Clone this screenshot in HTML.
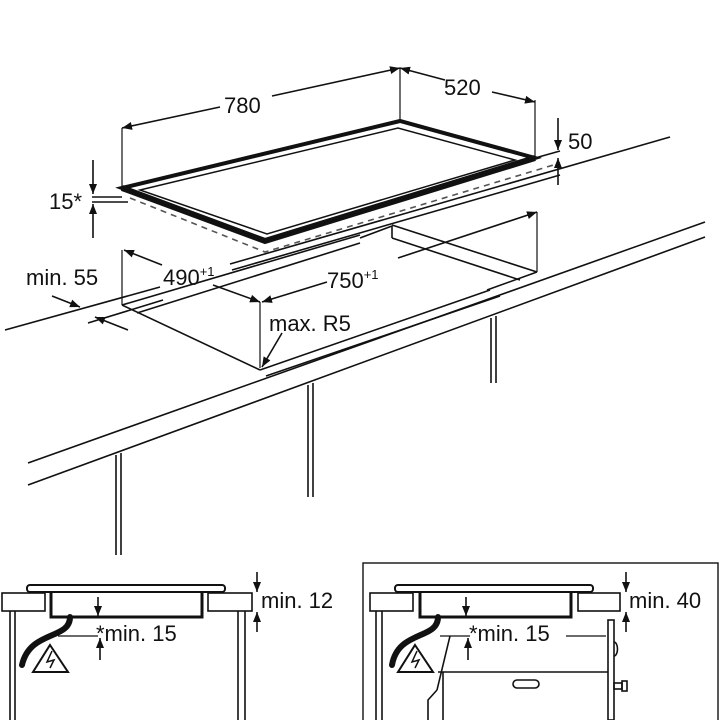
<!DOCTYPE html>
<html><head><meta charset="utf-8"><style>
html,body{margin:0;padding:0;background:#fff;width:720px;height:720px;overflow:hidden}
text{font-family:"Liberation Sans",Arial,sans-serif;fill:#111}
</style></head><body>
<svg width="720" height="720" viewBox="0 0 720 720" xmlns="http://www.w3.org/2000/svg">
<defs>
<marker id="a" viewBox="0 0 10 10" refX="10" refY="5" markerWidth="10" markerHeight="10" orient="auto-start-reverse" markerUnits="userSpaceOnUse"><path d="M0,1 L10,5 L0,9 z" fill="#111"/></marker>
</defs>
<g stroke="#111" stroke-width="1.6" fill="none">
<line x1="5" y1="330" x2="160" y2="287"/>
<line x1="88" y1="323" x2="163" y2="300"/>
<line x1="230" y1="264" x2="670" y2="137"/>
<line x1="232" y1="270" x2="560" y2="175"/>
<line x1="28" y1="463" x2="705" y2="222"/>
<line x1="28" y1="485" x2="705" y2="237"/>
<line x1="116" y1="455" x2="116" y2="555"/><line x1="121" y1="453" x2="121" y2="555"/>
<line x1="308" y1="385" x2="308" y2="497"/><line x1="313" y1="383" x2="313" y2="497"/>
<line x1="491" y1="318" x2="491" y2="383"/><line x1="496" y1="316" x2="496" y2="383"/>
<line x1="122" y1="305" x2="260" y2="370"/>
<line x1="137" y1="313" x2="360" y2="243"/>
<line x1="122" y1="305" x2="360" y2="235"/>
<line x1="360" y1="238" x2="392" y2="226"/>
<line x1="392" y1="225" x2="537" y2="272"/>
<line x1="392" y1="226" x2="392" y2="238"/>
<line x1="392" y1="238" x2="520" y2="280"/>
<line x1="537" y1="272" x2="487" y2="290"/>
<line x1="260" y1="370" x2="490" y2="290"/>
<line x1="266" y1="376" x2="500" y2="296"/>
<path d="M122,188 L400,121 L535,158 L265,241 Z" stroke-width="4"/>
<path d="M140,190 L398,128 L515,160 L267,234 Z" stroke-width="1.5"/>
<path d="M122,188 L265,241 L535,158" stroke-width="6"/>
<path d="M130,198 L265,252 L560,163" stroke-dasharray="6,5" stroke="#555"/>
<line x1="535" y1="158" x2="560" y2="151"/>
<line x1="92" y1="197" x2="122" y2="197"/><line x1="92" y1="202" x2="128" y2="202"/>
<line x1="122" y1="128" x2="122" y2="186" stroke-width="1.2"/>
<line x1="400" y1="68" x2="400" y2="120" stroke-width="1.2"/>
<line x1="535" y1="100" x2="535" y2="156" stroke-width="1.2"/>
<line x1="220" y1="107" x2="122" y2="128" marker-end="url(#a)"/>
<line x1="272" y1="96" x2="400" y2="68" marker-end="url(#a)"/>
<line x1="445" y1="80" x2="400" y2="68" marker-end="url(#a)"/>
<line x1="492" y1="92" x2="535" y2="102" marker-end="url(#a)"/>
<line x1="558" y1="118" x2="558" y2="150" marker-end="url(#a)"/>
<line x1="558" y1="185" x2="558" y2="158" marker-end="url(#a)"/>
<line x1="93" y1="160" x2="93" y2="194" marker-end="url(#a)"/>
<line x1="93" y1="238" x2="93" y2="204" marker-end="url(#a)"/>
<line x1="122" y1="250" x2="122" y2="305" stroke-width="1.2"/>
<line x1="162" y1="265" x2="124" y2="250" marker-end="url(#a)"/>
<line x1="213" y1="285" x2="260" y2="302" marker-end="url(#a)"/>
<line x1="327" y1="282" x2="262" y2="302" marker-end="url(#a)"/>
<line x1="398" y1="258" x2="537" y2="212" marker-end="url(#a)"/>
<line x1="537" y1="212" x2="537" y2="272" stroke-width="1.2"/>
<line x1="260" y1="302" x2="260" y2="368" stroke-width="1.2"/>
<line x1="282" y1="333" x2="262" y2="367" marker-end="url(#a)"/>
<line x1="52" y1="296" x2="80" y2="307" marker-end="url(#a)"/>
<line x1="128" y1="330" x2="95" y2="317" marker-end="url(#a)"/>
</g>
<g font-size="22">
<text x="224" y="113">780</text>
<text x="444" y="95">520</text>
<text x="568" y="149">50</text>
<text x="49" y="209">15*</text>
<text x="26" y="285">min. 55</text>
<text x="163" y="285">490<tspan font-size="13" dy="-9">+1</tspan></text>
<text x="327" y="288">750<tspan font-size="13" dy="-9">+1</tspan></text>
<text x="269" y="331">max. R5</text>
</g>
<g stroke="#111" stroke-width="1.6" fill="none">
<rect x="27" y="585" width="198" height="7" rx="3" stroke-width="2"/>
<rect x="2" y="593" width="43" height="18"/>
<rect x="208" y="593" width="44" height="18"/>
<path d="M51,593 V617 H202 V593" stroke-width="3"/>
<line x1="10" y1="611" x2="10" y2="720"/><line x1="15" y1="611" x2="15" y2="720"/>
<line x1="238" y1="611" x2="238" y2="720"/><line x1="245" y1="611" x2="245" y2="720"/>
<path d="M70,617 C70,640 30,630 22,665" stroke-width="6" stroke-linecap="round"/>
<path d="M50,645 L68,672 L33,672 Z" stroke-width="2"/>
<path d="M52,651 L47,662 L54,660 L50,668" stroke-width="1.5"/>
<line x1="58" y1="636" x2="98" y2="636" stroke-width="1.2"/>
<line x1="98" y1="597" x2="98" y2="616" marker-end="url(#a)"/>
<line x1="100" y1="660" x2="100" y2="638" marker-end="url(#a)"/>
<line x1="257" y1="572" x2="257" y2="592" marker-end="url(#a)"/>
<line x1="257" y1="632" x2="257" y2="612" marker-end="url(#a)"/>
</g>
<g font-size="22"><text x="261" y="608">min. 12</text><text x="96" y="641">*min. 15</text></g>
<g stroke="#111" stroke-width="1.6" fill="none">
<rect x="363" y="563" width="355" height="160" stroke-width="1.4"/>
<rect x="395" y="585" width="198" height="7" rx="3" stroke-width="2"/>
<rect x="370" y="593" width="43" height="18"/>
<rect x="578" y="593" width="42" height="18"/>
<path d="M420,593 V617 H571 V593" stroke-width="3"/>
<line x1="376" y1="611" x2="376" y2="720"/><line x1="382" y1="611" x2="382" y2="720"/>
<path d="M438,617 C438,640 398,630 392,665" stroke-width="6" stroke-linecap="round"/>
<path d="M415,645 L433,672 L398,672 Z" stroke-width="2"/>
<path d="M417,651 L412,662 L419,660 L415,668" stroke-width="1.5"/>
<line x1="440" y1="636" x2="470" y2="636" stroke-width="1.2"/>
<line x1="566" y1="636" x2="606" y2="636" stroke-width="1.2"/>
<line x1="450" y1="636" x2="437" y2="690"/>
<path d="M437,690 L428,700 V720"/>
<line x1="438" y1="672" x2="608" y2="672"/>
<line x1="443" y1="672" x2="443" y2="720"/>
<rect x="608" y="620" width="6" height="100"/>
<path d="M614,642 a3,6 0 0 1 0,14"/>
<rect x="614" y="683" width="8" height="6"/><rect x="622" y="681" width="5" height="10"/>
<rect x="513" y="680" width="26" height="8" rx="4"/>
<line x1="466" y1="597" x2="466" y2="616" marker-end="url(#a)"/>
<line x1="468" y1="660" x2="468" y2="638" marker-end="url(#a)"/>
<line x1="626" y1="572" x2="626" y2="592" marker-end="url(#a)"/>
<line x1="626" y1="632" x2="626" y2="612" marker-end="url(#a)"/>
</g>
<g font-size="22"><text x="629" y="608">min. 40</text><text x="469" y="641">*min. 15</text></g>
</svg>
</body></html>
